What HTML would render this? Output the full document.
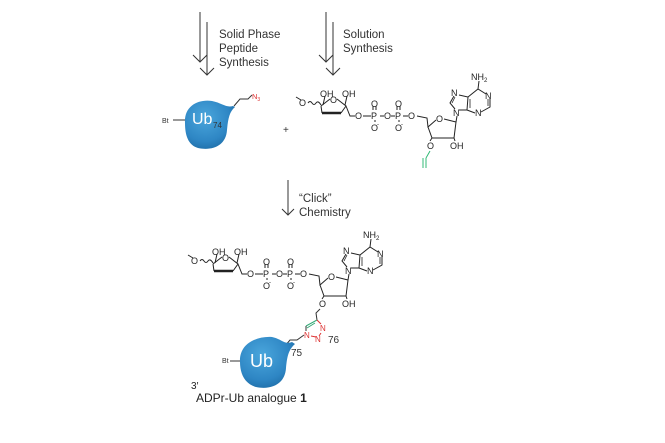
<!DOCTYPE html>
<html><head><style>
body{margin:0;background:#fff;}
svg{display:block;font-family:"Liberation Sans",sans-serif;}
</style></head><body>
<svg width="665" height="443" viewBox="0 0 665 443" xmlns="http://www.w3.org/2000/svg">
<defs>
<radialGradient id="g" cx="0.4" cy="0.35" r="0.7">
<stop offset="0" stop-color="#4aa6dc"/><stop offset="0.7" stop-color="#2e86c4"/><stop offset="1" stop-color="#1f6ea8"/>
</radialGradient>
<g id="adp" stroke="#222" stroke-width="1" fill="none">
<path d="M296,97 L301,100"/>
<path d="M308,103 q2,-3 4,0 q2,3 4,0 q2,-3 5,2"/>
<path d="M321,106 L330,99 M337,99 L346,106 L341,113 M321,106 L322,113"/>
<path d="M322,113 L341,113" stroke-width="2.5"/>
<path d="M323,105 L325,96 M345,105 L347,96"/>
<path d="M346,106 L350,116 L355,116"/>
<path d="M363,116 L371,116 M380,116 L384,116 M391,116 L395,116 M403,116 L408,116"/>
<path d="M373,110 L373,106 M376,110 L376,106 M397,110 L397,106 M400,110 L400,106"/>
<path d="M375,120 L375,122 M399,120 L399,122"/>
<path d="M417,116 L427,118 L428,127 L436,120 M444,119 L456,122 L454,138 L432,138 L428,127"/>
<path d="M432,138 L430,141 M454,138 L455,141"/>
<path d="M456,122 L457,116"/>
<path d="M459,110 L467,110 L468,97 L459,95 M454,96 L450,103 L455,109 M468,97 L478,89 L486,94 M490,99 L490,107 L481,112 M475,113 L467,110 M478,89 L479,81"/>
<path d="M470,99 L470,108 M452,103 L455,97 M488,99 L488,106" stroke-width="0.8"/>
</g>
<g id="adptext" font-size="9" fill="#222">
<text x="299" y="106">O</text>
<text x="320" y="97">OH</text><text x="342" y="97">OH</text>
<text x="330" y="103">O</text>
<text x="355" y="119">O</text><text x="371" y="119">P</text><text x="384" y="119">O</text><text x="395" y="119">P</text><text x="408" y="119">O</text>
<text x="371" y="107">O</text><text x="395" y="107">O</text>
<text x="371" y="131">O</text><text x="395" y="131">O</text>
<text x="377" y="126" font-size="6">-</text><text x="401" y="126" font-size="6">-</text>
<text x="436" y="122">O</text>
<text x="453" y="116">N</text><text x="451" y="96">N</text>
<text x="485" y="99">N</text><text x="475" y="116">N</text>
<text x="471" y="80">NH<tspan font-size="6" dy="2">2</tspan></text>
<text x="427" y="149">O</text><text x="450" y="149">OH</text>
</g>
</defs>
<!-- arrows -->
<g stroke="#333" stroke-width="1" fill="none">
<path d="M200,12 V62 M193,55 L200,62 L207,55"/>
<path d="M207,22 V75 M200,68 L207,75 L214,68"/>
<path d="M326,12 V62 M319,55 L326,62 L333,55"/>
<path d="M333,22 V75 M326,68 L333,75 L340,68"/>
<path d="M288,180 V215 M282,209 L288,215 L294,209"/>
</g>
<g font-size="11.5" fill="#333">
<text x="219" y="38">Solid Phase</text><text x="219" y="52">Peptide</text><text x="219" y="66">Synthesis</text>
<text x="343" y="38">Solution</text><text x="343" y="52">Synthesis</text>
<text x="299" y="202">“Click”</text><text x="299" y="216">Chemistry</text>
</g>
<!-- top Ub -->
<path d="M185,123 C184,106 198,99 212,101 C222,103 226,108 233,106 L235,107 C229,112 228,120 227,130 C226,146 212,151 198,148 C188,145 185,135 185,123Z" fill="url(#g)"/>
<path d="M173,120 H185 M234,106 L240,99 L248,99 L252,95" stroke="#333" fill="none"/>
<text x="162" y="123" font-size="7" fill="#333">Bt</text>
<text x="192" y="124" font-size="16" fill="#fff">Ub</text>
<text x="213" y="128" font-size="8" fill="#333">74</text>
<text x="252" y="99" font-size="7.5" fill="#d33">N<tspan font-size="5" dy="2">3</tspan></text>
<text x="283" y="133" font-size="10" fill="#333">+</text>
<!-- top ADP -->
<use href="#adp"/><use href="#adptext"/>
<path d="M430,151 L426,158 M423,158 V168 M426,158 V168" stroke="#3b7" fill="none"/>
<!-- bottom ADP -->
<g transform="translate(-108,158)"><use href="#adp"/><use href="#adptext"/></g>
<g stroke="#333" fill="none" stroke-width="1">
<path d="M320,309 L316,313 L317,320"/>
<path d="M317,320 L306,326 M315,323 L307,328" stroke="#3a7"/>
<path d="M306,326 L306,331"/>
<path d="M317,320 L321,324 M319,336 L321,333 M311,336 L316,337" stroke="#d33"/>
<path d="M304,335 L297,340 L290,340 L285,346"/>
</g>
<g font-size="8" fill="#d33">
<text x="320" y="331">N</text><text x="315" y="342">N</text><text x="304" y="338">N</text>
</g>
<text x="328" y="343" font-size="10" fill="#333">76</text>
<text x="291" y="356" font-size="10" fill="#333">75</text>
<!-- bottom Ub -->
<path d="M240,362 C239,344 256,336 272,337 C282,339 284,345 292,342 L295,344 C288,350 287,358 286,368 C285,385 270,390 256,387 C245,384 240,374 240,362Z" fill="url(#g)"/>
<path d="M230,361 H240" stroke="#333"/>
<text x="222" y="363" font-size="7" fill="#333">Bt</text>
<text x="250" y="367" font-size="18" fill="#fff">Ub</text>
<text x="191" y="389" font-size="10" fill="#222">3′</text>
<text x="196" y="402" font-size="12" fill="#222">ADPr-Ub analogue <tspan font-weight="bold">1</tspan></text>
</svg>
</body></html>
